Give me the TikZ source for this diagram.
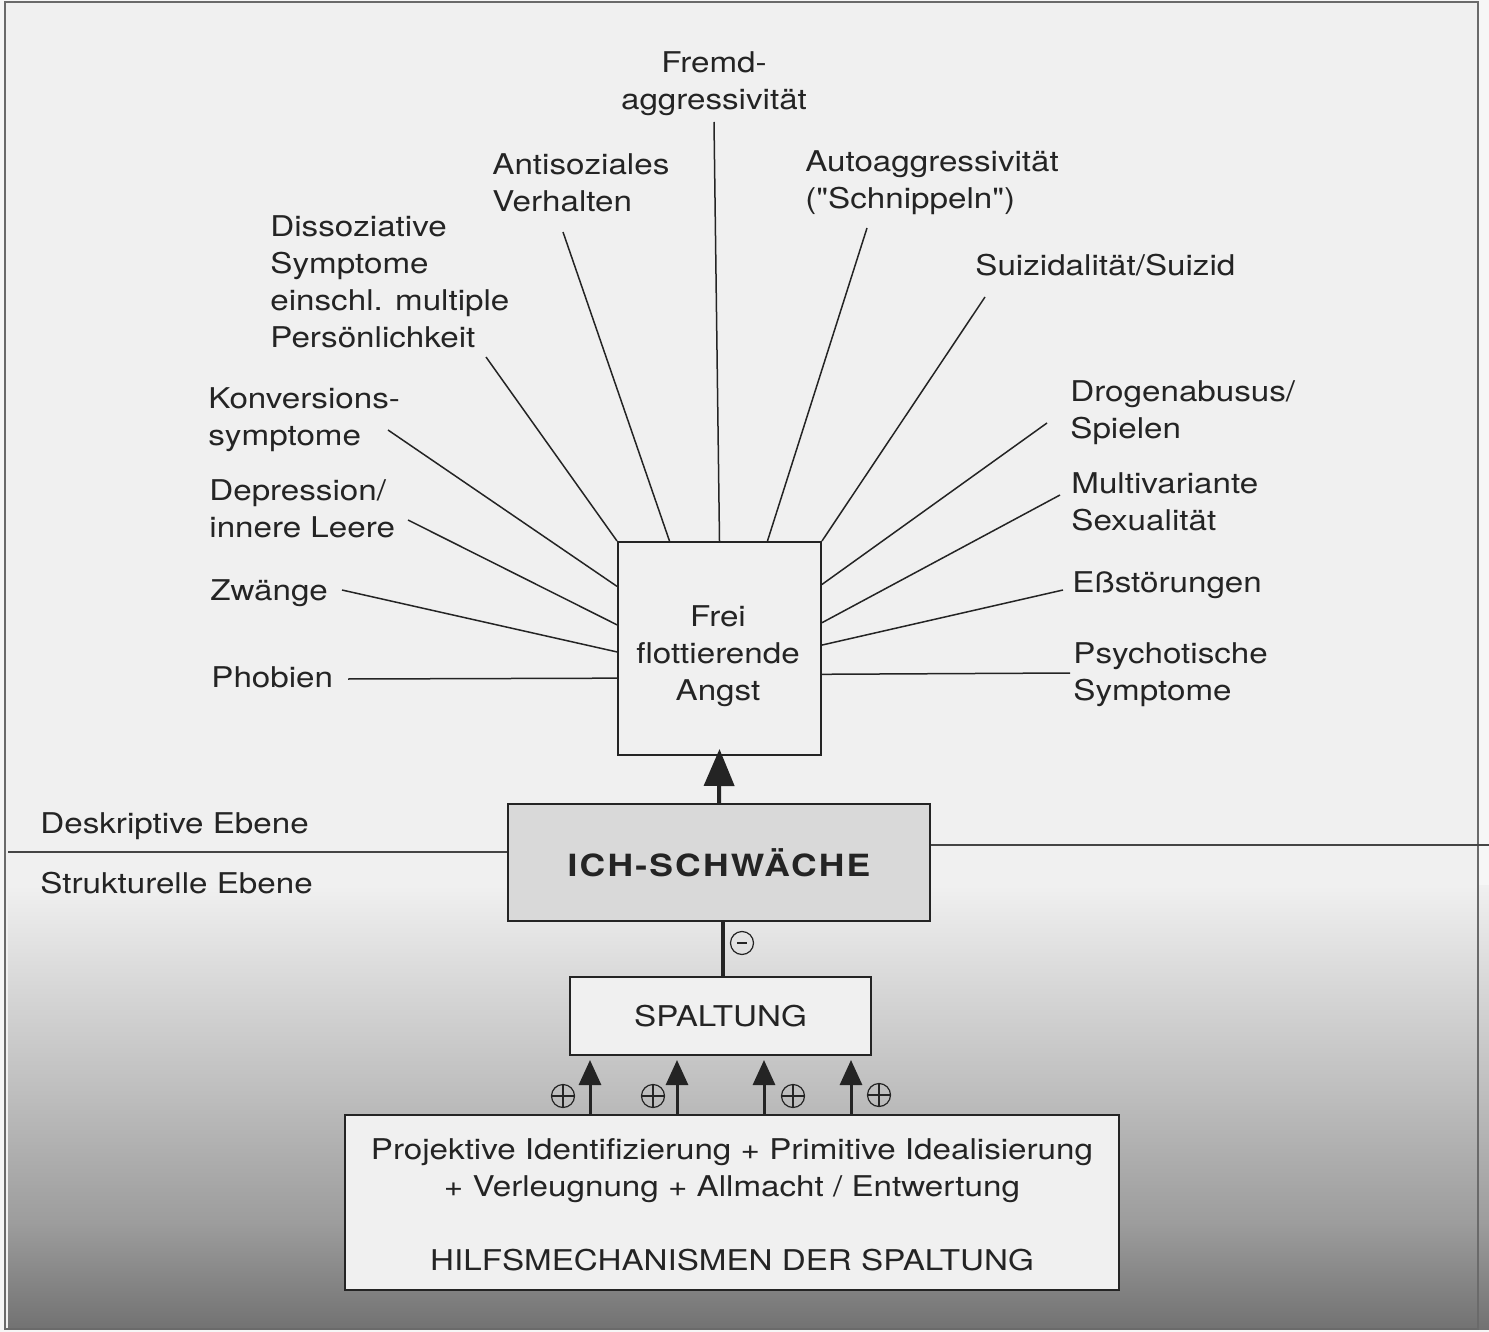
\documentclass[tikz,border=0pt]{standalone}
\usepackage{fontspec}
\setmainfont{TeX Gyre Heros}[FakeStretch=1.16,Ligatures=TeXOff]
\newfontfamily\ichfont{TeX Gyre Heros}[FakeStretch=1.16,LetterSpace=7,Ligatures=TeXOff]
\usetikzlibrary{arrows.meta,calc}
\definecolor{ink}{HTML}{242424}
\definecolor{paper}{HTML}{F0F0F0}
\definecolor{outer}{HTML}{F6F6F6}
\definecolor{ichfill}{HTML}{D9D9D9}
\definecolor{framecol}{HTML}{6A6A6A}
\definecolor{gA}{HTML}{DADADA}
\definecolor{gB}{HTML}{BBBBBB}
\definecolor{gC}{HTML}{9C9C9C}
\definecolor{gD}{HTML}{727272}
\begin{document}
\begin{tikzpicture}[x=0.5pt,y=-0.5pt,
  lbl/.style={font=\fontsize{14.3}{18.5}\selectfont, text=ink, inner sep=0pt, align=left, anchor=base west},
  ray/.style={draw=ink, line width=0.75pt},
  box/.style={draw=ink, line width=1pt, fill=paper, inner sep=0pt},
  pm/.style={circle, draw=ink, line width=0.6pt, minimum size=11.5pt, inner sep=0pt},
  plus/.style={pm, path picture={\draw[ink, line width=0.6pt] (path picture bounding box.west) -- (path picture bounding box.east) (path picture bounding box.north) -- (path picture bounding box.south);}},
  minus/.style={pm, path picture={\draw[ink, line width=0.6pt] ([xshift=-2.6pt]path picture bounding box.center) -- ([xshift=2.6pt]path picture bounding box.center);}},
  bigarrow/.style={line width=2pt, draw=ink, -{Triangle[width=15pt,length=18.5pt]}},
  smallarrow/.style={line width=1.5pt, draw=ink, -{Triangle[width=11pt,length=12.5pt]}},
  thickline/.style={line width=2pt, draw=ink},
  levelline/.style={draw=ink!85, line width=0.7pt}
]
\useasboundingbox (0,0) rectangle (1489,1332);
% background
\fill[outer] (0,0) rectangle (1489,1332);
\fill[paper] (5,2) rectangle (1478,1329);
\shade[top color=paper, bottom color=gA] (8,885) rectangle (1489,975);
\shade[top color=gA, bottom color=gB] (8,974) rectangle (1489,1105);
\shade[top color=gB, bottom color=gC] (8,1104) rectangle (1489,1225);
\shade[top color=gC, bottom color=gD] (8,1224) rectangle (1489,1329);
\draw[framecol, line width=0.7pt] (5,2) rectangle (1478,1329);

% boxes
\node[box, minimum width=101.5pt, minimum height=106.5pt] (angst) at (719.5,648.5) {};
\node[box, fill=ichfill, minimum width=211pt, minimum height=58.5pt,
      font={\ichfont\bfseries\fontsize{15.3}{18}\selectfont}, text=ink] (ich) at (719,862.5) {ICH-SCHWÄCHE};
\node[box, minimum width=150.5pt, minimum height=39pt,
      font=\fontsize{14.3}{18.5}\selectfont, text=ink] (spalt) at (720.5,1016) {SPALTUNG};
\node[box, minimum width=387pt, minimum height=87.5pt] (hilfs) at (732,1202.5) {};

% labels (multi-line nodes: base = last line's baseline)
\node[lbl, align=center, anchor=base] (fremd) at (714,110) {Fremd-\\aggressivität};
\node[lbl] (anti) at (492,212) {Antisoziales\\Verhalten};
\node[lbl] (auto) at (805,209) {Autoaggressivität\\("Schnippeln")};
\node[lbl] (suiz) at (975,276) {Suizidalität/Suizid};
\node[lbl] (diss) at (270,348) {Dissoziative\\Symptome\\einschl. multiple\\Persönlichkeit};
\node[lbl] (konv) at (208,445) {Konversions-\\symptome};
\node[lbl] (depr) at (209,537) {Depression/\\innere Leere};
\node[lbl] (zw) at (210,600) {Zwänge};
\node[lbl] (phob) at (211,687) {Phobien};
\node[lbl] (drog) at (1070,438) {Drogenabusus/\\Spielen};
\node[lbl] (mult) at (1071,530) {Multivariante\\Sexualität};
\node[lbl] (ess) at (1072,592) {Eßstörungen};
\node[lbl] (psy) at (1073,700) {Psychotische\\Symptome};
\node[lbl] (desk) at (40,833) {Deskriptive Ebene};
\node[lbl] (strk) at (40,893) {Strukturelle Ebene};
\node[lbl, align=center, anchor=base] (angsttxt) at (718,700) {Frei\\flottierende\\Angst};
\node[lbl, align=center, anchor=base] (hilfstxt) at (732,1270) {Projektive Identifizierung + Primitive Idealisierung\\+ Verleugnung + Allmacht / Entwertung\\[18.5pt]HILFSMECHANISMEN DER SPALTUNG};

% free ends of rays
\coordinate (fremdE) at (714,122);
\coordinate (antiE) at (563,232);
\coordinate (autoE) at (867,228);
\coordinate (suizE) at (985,297);
\coordinate (dissE) at (486,357);
\coordinate (konvE) at (388,430);
\coordinate (deprE) at (408,520);
\coordinate (zwE) at (342,590);
\coordinate (phobE) at (348,679);
\coordinate (drogE) at (1047,423);
\coordinate (multE) at (1060,495);
\coordinate (essE) at (1063,590);
\coordinate (psyE) at (1070,673);

% rays
\draw[ray] (fremdE) -- (angst.north);
\draw[ray] (antiE) -- ($(angst.north west)!0.256!(angst.north east)$);
\draw[ray] (autoE) -- ($(angst.north west)!0.734!(angst.north east)$);
\draw[ray] (suizE) -- (angst.north east);
\draw[ray] (dissE) -- (angst.north west);
\draw[ray] (konvE) -- ($(angst.north west)!0.211!(angst.south west)$);
\draw[ray] (deprE) -- ($(angst.north west)!0.390!(angst.south west)$);
\draw[ray] (zwE) -- ($(angst.north west)!0.516!(angst.south west)$);
\draw[ray] (phobE) -- ($(angst.north west)!0.638!(angst.south west)$);
\draw[ray] (drogE) -- ($(angst.north east)!0.202!(angst.south east)$);
\draw[ray] (multE) -- ($(angst.north east)!0.380!(angst.south east)$);
\draw[ray] (essE) -- ($(angst.north east)!0.484!(angst.south east)$);
\draw[ray] (psyE) -- ($(angst.north east)!0.620!(angst.south east)$);

% level line
\coordinate (lvlL) at (8,852);
\coordinate (lvlR) at (1489,845);
\draw[levelline] (lvlL) -- (ich.west |- lvlL);
\draw[levelline] (ich.east |- lvlR) -- (lvlR);

% arrows
\draw[bigarrow] (ich.north) -- ([yshift=3.5pt]angst.south);
\coordinate (cx) at (723,0);
\draw[thickline] (ich.south -| cx) -- (spalt.north -| cx);
\node[minus] (mn) at (742,943) {};

\coordinate (a1) at (590,1060);
\coordinate (a2) at (677,1060);
\coordinate (a3) at (764,1060);
\coordinate (a4) at (851,1060);
\draw[smallarrow] (hilfs.north -| a1) -- (a1);
\draw[smallarrow] (hilfs.north -| a2) -- (a2);
\draw[smallarrow] (hilfs.north -| a3) -- (a3);
\draw[smallarrow] (hilfs.north -| a4) -- (a4);
\node[plus] (pl1) at (563,1096) {};
\node[plus] (pl2) at (653,1096) {};
\node[plus] (pl3) at (793,1096) {};
\node[plus] (pl4) at (879,1095) {};
\end{tikzpicture}
\end{document}
